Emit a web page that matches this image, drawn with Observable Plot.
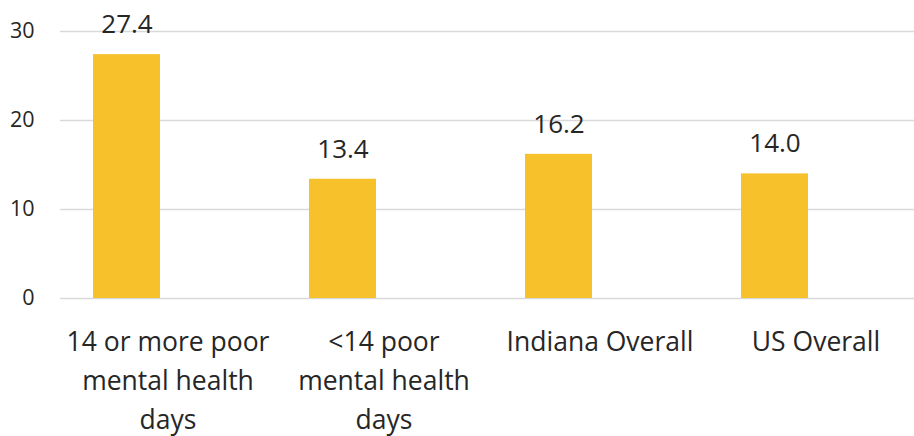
<!DOCTYPE html>
<html>
<head>
<meta charset="utf-8">
<script src="https://cdn.jsdelivr.net/npm/d3@7"></script>
<script src="https://cdn.jsdelivr.net/npm/@observablehq/plot@0.6"></script>
<style>
  html, body { margin: 0; padding: 0; background: #fff; }
</style>
</head>
<body>
<div id="chart"></div>
<script>
const categories = ["14 or more poor mental health days", "<14 poor mental health days", "Indiana Overall", "US Overall"];
const categoryLabels = ["14 or more poor\nmental health\ndays", "<14 poor\nmental health\ndays", "Indiana Overall", "US Overall"];
const values = [27.4, 13.4, 16.2, 14.0];
const yTicks = [0, 10, 20, 30];

const data = categories.map((c, i) => ({category: c, label: categoryLabels[i], value: values[i]}));

const chart = Plot.plot({
  width: 914,
  height: 436,
  marginLeft: 60,
  marginRight: 0,
  marginTop: 31,
  marginBottom: 138,
  style: {fontFamily: "'Open Sans', sans-serif", color: "#262626", background: "#fff"},
  x: {domain: categories, range: [18, 882], paddingInner: 0.69, paddingOuter: 0.345, axis: null},
  y: {domain: [0, 30], label: null},
  marks: [
    Plot.ruleY(yTicks, {stroke: "#d9d9d9", strokeWidth: 1.6}),
    Plot.barY(data, {x: "category", y: "value", fill: "#F6C12A"}),
    Plot.text(data, {x: "category", y: "value", text: d => d.value.toFixed(1), dy: -30, lineAnchor: "middle", fontSize: 26, fill: "#262626"}),
    Plot.text(data, {x: "category", frameAnchor: "bottom", text: "label", dx: 41, dy: 25, lineAnchor: "top", lineHeight: 1.47, fontSize: 26.5, fill: "#262626"}),
    Plot.axisY({ticks: yTicks, tickSize: 0, tickPadding: 26, fontSize: 21.5, label: null, fill: "#262626"})
  ]
});
document.getElementById("chart").appendChild(chart);
</script>
</body>
</html>
